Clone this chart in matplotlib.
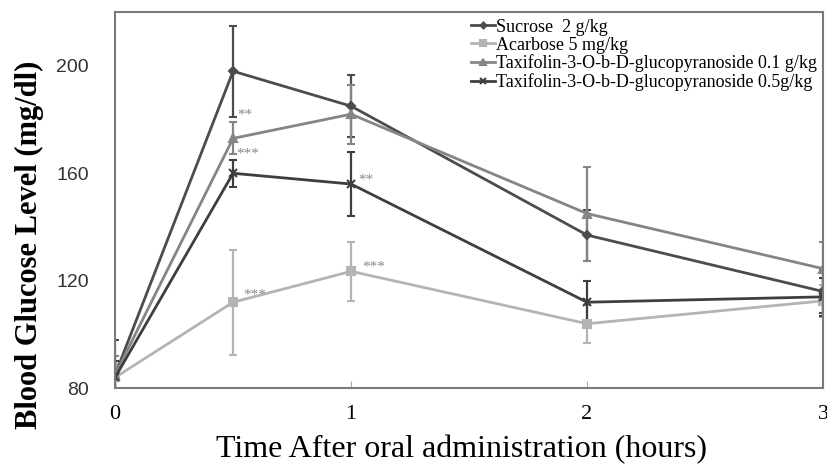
import matplotlib
matplotlib.use("Agg")
import matplotlib.pyplot as plt
from matplotlib.lines import Line2D

# time points (hours) and mean blood glucose (mg/dl) with error
hours = [0, 0.5, 1, 2, 3]

sucrose = [85, 198, 185, 137, 116]
sucrose_err = [13, 17, 11.5, 9.5, 8]

acarbose = [84, 112, 123.5, 104, 112.5]
acarbose_err = [5, 19.5, 11, 7, 6]

taxi_01 = [85, 173, 182, 145, 124.5]
taxi_01_err = [7, 6, 11, 17.5, 10]

taxi_05 = [84, 160, 156, 112, 114]
taxi_05_err = [6, 5, 12, 8, 7]

labels = ["Sucrose  2 g/kg", "Acarbose 5 mg/kg",
          "Taxifolin-3-O-b-D-glucopyranoside 0.1 g/kg",
          "Taxifolin-3-O-b-D-glucopyranoside 0.5g/kg"]

# significance marks: (series index, time index, text)
sig_marks = [(2, 1, "**"), (3, 1, "***"), (3, 2, "**"), (1, 1, "***"), (1, 2, "***")]

yticks = [80, 120, 160, 200]
xticks = [0, 1, 2, 3]

serif = ["Liberation Serif", "DejaVu Serif"]

fig = plt.figure(figsize=(8.28, 4.66), dpi=100)
ax = fig.add_axes([0.139, 0.167, 0.855, 0.807])

series = [
    (sucrose, sucrose_err, "#4c4c4c", "D", 4),
    (acarbose, acarbose_err, "#b4b4b4", "s", 6),
    (taxi_01, taxi_01_err, "#858585", "^", 6),
    (taxi_05, taxi_05_err, "#3e3e3e", "x", 6),
]

handles = []
for (vals, err, col, mk, ms), lab in zip(series, labels):
    ax.errorbar(hours, vals, yerr=err, color=col, ecolor=col, lw=2, elinewidth=1.6,
                capsize=3, capthick=1.6, marker=mk, ms=ms, mew=1.5)
    handles.append(Line2D([], [], color=col, lw=2, marker=mk, ms=ms - 1, mew=1.5, label=lab))

# offsets (points) for the asterisks relative to each point
offsets = {(2, 1): (3, 5), (3, 1): (2, 4), (3, 2): (5, 3), (1, 1): (7, 5), (1, 2): (8, 3)}
for si, ti, txt in sig_marks:
    vals = series[si][0]
    err = series[si][1]
    y = vals[ti] + (err[ti] if (si, ti) in [(2, 1), (3, 1)] else 0)
    dx, dy = offsets[(si, ti)]
    ax.annotate(txt, (hours[ti], y), xytext=(dx, dy), textcoords="offset points",
                ha="left", va="center", fontsize=11, color="#8a8a8a",
                family=serif)

ax.set_xlim(0, 3)
ax.set_ylim(80, 220)
ax.set_xticks(xticks)
ax.set_yticks(yticks)
ax.set_xticklabels([str(t) for t in xticks], family=serif, fontsize=16)
ax.set_yticklabels([str(t) for t in yticks], family=["Liberation Sans"], fontsize=14,
                   color="#333333")
ax.tick_params(axis="x", direction="in", length=5, color="#aaaaaa", pad=12)
ax.tick_params(axis="y", length=0, pad=19)

for sp in ax.spines.values():
    sp.set_color("#7a7a7a")
    sp.set_linewidth(1.5)

ax.set_xlabel("Time After oral administration (hours)", family=serif, fontsize=23,
              labelpad=0)
ax.xaxis.set_label_coords(0.49, -0.125)
ax.set_ylabel("Blood Glucose Level (mg/dl)", family=serif, fontsize=22,
              fontweight="bold")
ax.yaxis.set_label_coords(-0.1, 0.38)

ax.legend(handles=handles, loc="upper left", bbox_to_anchor=(0.569, 0.96),
          bbox_transform=fig.transFigure, frameon=False,
          prop={"family": serif, "size": 13}, handlelength=1.3,
          handletextpad=0.1, labelspacing=0.05, borderpad=0, borderaxespad=0)

fig.savefig("out.png", dpi=100)
